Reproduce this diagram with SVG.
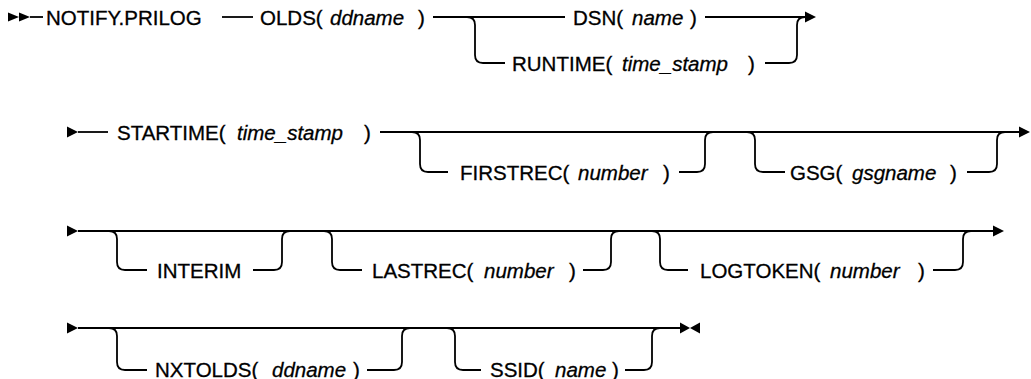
<svg xmlns="http://www.w3.org/2000/svg" width="1031" height="379" viewBox="0 0 1031 379">
<style>
text{font-family:"Liberation Sans",Arial,sans-serif;font-size:20.5px;fill:#000;stroke:#000;stroke-width:0.3}
.v{font-style:italic}
.ln{fill:none;stroke:#000;stroke-width:1.8}
.ah{fill:#000;stroke:none}
</style>
<rect width="1031" height="379" fill="#fff"/>
<g id="connectors">
<!-- row 1 -->
<polygon class="ah" points="8,12.5 8,21.5 19,17"/>
<polygon class="ah" points="19,12.5 19,21.5 30,17"/>
<path class="ln" d="M30,17H43"/>
<path class="ln" d="M222,17H253"/>
<path class="ln" d="M433,17H565"/>
<path class="ln" d="M467,17Q475,17 475,25V55Q475,63 483,63H505"/>
<path class="ln" d="M705,17H806"/>
<path class="ln" d="M765,63H789Q797,63 797,55V25Q797,17 805,17"/>
<polygon class="ah" points="805,11.5 805,22.5 816,17"/>
<!-- row 2 -->
<polygon class="ah" points="67,126.5 67,137.5 78,132"/>
<path class="ln" d="M78,132H108"/>
<path class="ln" d="M380,132H1020"/>
<path class="ln" d="M412,132Q420,132 420,140V164Q420,172 428,172H448"/>
<path class="ln" d="M679,172H697Q705,172 705,164V140Q705,132 713,132"/>
<path class="ln" d="M747,132Q755,132 755,140V164Q755,172 763,172H785"/>
<path class="ln" d="M967,172H989Q997,172 997,164V140Q997,132 1005,132"/>
<polygon class="ah" points="1019,126.5 1019,137.5 1030,132"/>
<!-- row 3 -->
<polygon class="ah" points="67,225.5 67,236.5 78,231"/>
<path class="ln" d="M78,231H994"/>
<path class="ln" d="M109,231Q117,231 117,239V262Q117,270 125,270H147"/>
<path class="ln" d="M253,270H274Q282,270 282,262V239Q282,231 290,231"/>
<path class="ln" d="M324,231Q332,231 332,239V262Q332,270 340,270H362"/>
<path class="ln" d="M583,270H603Q611,270 611,262V239Q611,231 619,231"/>
<path class="ln" d="M652,231Q660,231 660,239V262Q660,270 668,270H688"/>
<path class="ln" d="M933,270H955Q963,270 963,262V239Q963,231 971,231"/>
<polygon class="ah" points="993,225.5 993,236.5 1004,231"/>
<!-- row 4 -->
<polygon class="ah" points="67,322.5 67,333.5 78,328"/>
<path class="ln" d="M78,328H681"/>
<path class="ln" d="M109,328Q117,328 117,336V362Q117,370 125,370H147"/>
<path class="ln" d="M367,370H394Q402,370 402,362V336Q402,328 410,328"/>
<path class="ln" d="M447,328Q455,328 455,336V362Q455,370 463,370H481"/>
<path class="ln" d="M625,370H644Q652,370 652,362V336Q652,328 660,328"/>
<polygon class="ah" points="680,322.5 680,333.5 690,328"/>
<polygon class="ah" points="700,322.5 700,333.5 690,328"/>
</g>
<g id="n-notify"><text x="46" y="24.5">NOTIFY.PRILOG</text></g>
<g id="n-olds"><text x="260" y="24.5">OLDS(</text><text class="v" x="330" y="24.5">ddname</text><text x="418" y="24.5">)</text></g>
<g id="n-dsn"><text x="573" y="24.5">DSN(</text><text class="v" x="632" y="24.5">name</text><text x="690" y="24.5">)</text></g>
<g id="n-runtime"><text x="512" y="70.5">RUNTIME(</text><text class="v" x="622" y="70.5">time_stamp</text><text x="748" y="70.5">)</text></g>
<g id="n-startime"><text x="117" y="139.5">STARTIME(</text><text class="v" x="237" y="139.5">time_stamp</text><text x="364" y="139.5">)</text></g>
<g id="n-firstrec"><text x="460" y="179.5">FIRSTREC(</text><text class="v" x="578" y="179.5">number</text><text x="663" y="179.5">)</text></g>
<g id="n-gsg"><text x="790" y="179.5">GSG(</text><text class="v" x="852" y="179.5">gsgname</text><text x="950" y="179.5">)</text></g>
<g id="n-interim"><text x="157" y="277.5">INTERIM</text></g>
<g id="n-lastrec"><text x="372" y="277.5">LASTREC(</text><text class="v" x="484" y="277.5">number</text><text x="569" y="277.5">)</text></g>
<g id="n-logtoken"><text x="700" y="277.5">LOGTOKEN(</text><text class="v" x="830" y="277.5">number</text><text x="918" y="277.5">)</text></g>
<g id="n-nxtolds"><text x="155" y="377">NXTOLDS(</text><text class="v" x="272" y="377">ddname</text><text x="353" y="377">)</text></g>
<g id="n-ssid"><text x="490" y="377">SSID(</text><text class="v" x="555" y="377">name</text><text x="612" y="377">)</text></g>
</svg>
